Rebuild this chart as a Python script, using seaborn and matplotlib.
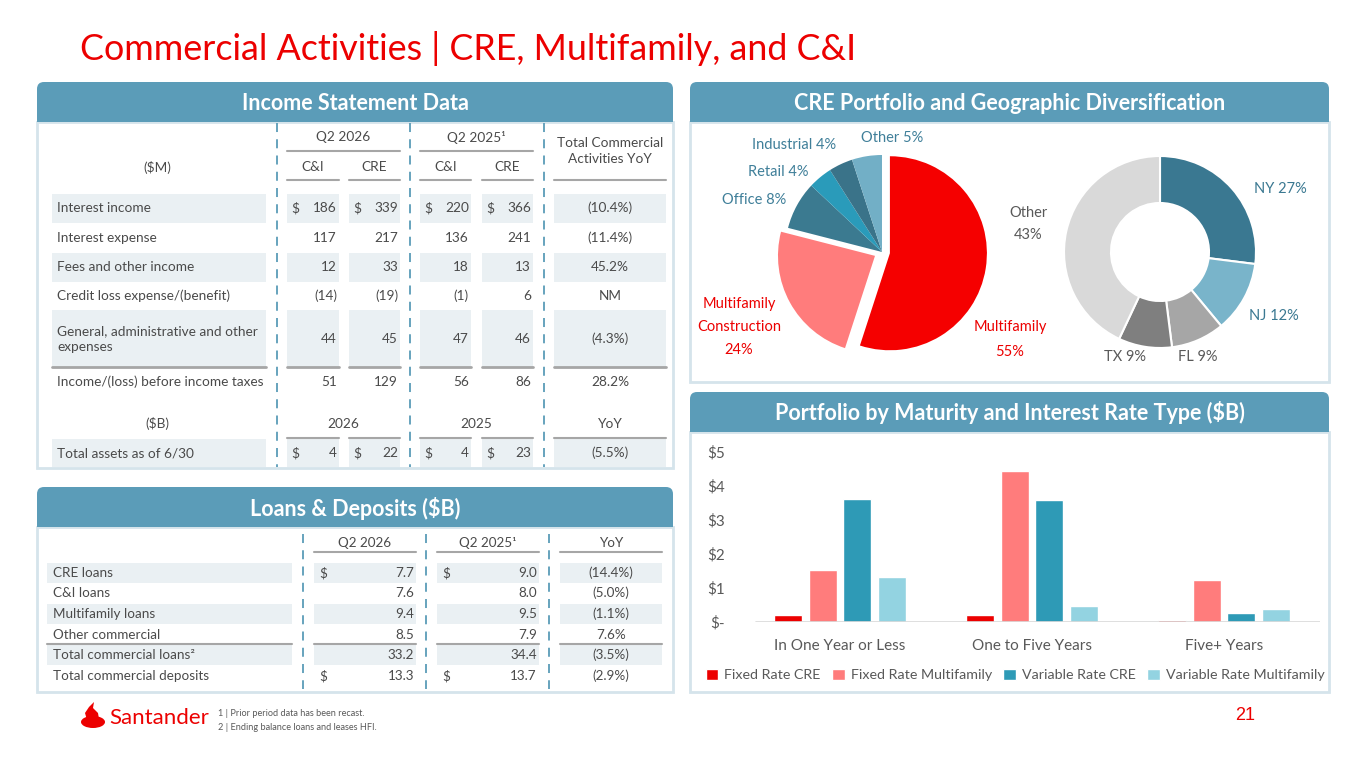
import matplotlib
matplotlib.use("Agg")
import matplotlib.pyplot as plt
from matplotlib.patches import Rectangle, FancyBboxPatch, Polygon, Ellipse
import seaborn as sns
import pandas as pd

W, H = 1365, 768

RED = "#EC0000"
HDR = "#5B9CB8"
BORDER = "#D5E4EB"
SHADE = "#EAF0F3"
TXT = "#4A4A4A"
RULE = "#A6A6A6"
DASH = "#5B9CB8"

# ---- data ----
title = "Commercial Activities | CRE, Multifamily, and C&I"

is_rows = ["Interest income", "Interest expense", "Fees and other income",
           "Credit loss expense/(benefit)", "General, administrative and other\nexpenses",
           "Income/(loss) before income taxes"]
is_ci_26 = ["186", "117", "12", "(14)", "44", "51"]
is_cre_26 = ["339", "217", "33", "(19)", "45", "129"]
is_ci_25 = ["220", "136", "18", "(1)", "47", "56"]
is_cre_25 = ["366", "241", "13", "6", "46", "86"]
is_yoy = ["(10.4%)", "(11.4%)", "45.2%", "NM", "(4.3%)", "28.2%"]
assets_label = "Total assets as of 6/30"
assets_vals = ["4", "22", "4", "23"]
assets_yoy = "(5.5%)"

ld_rows = ["CRE loans", "C&I loans", "Multifamily loans", "Other commercial",
           "Total commercial loans\u00b2", "Total commercial deposits"]
ld_q2_26 = [7.7, 7.6, 9.4, 8.5, 33.2, 13.3]
ld_q2_25 = [9.0, 8.0, 9.5, 7.9, 34.4, 13.7]
ld_yoy = ["(14.4%)", "(5.0%)", "(1.1%)", "7.6%", "(3.5%)", "(2.9%)"]

cre_types = ["Multifamily", "Multifamily\nConstruction", "Office", "Retail", "Industrial", "Other"]
cre_share = [55, 24, 8, 4, 4, 5]
geo_states = ["NY", "NJ", "FL", "TX", "Other"]
geo_share = [27, 12, 9, 9, 43]

maturity = ["In One Year or Less", "One to Five Years", "Five+ Years"]
fixed_cre = [0.20, 0.22, 0.07]
fixed_mf = [1.54, 4.45, 1.23]
var_cre = [3.61, 3.59, 0.26]
var_mf = [1.31, 0.47, 0.39]
series_names = ["Fixed Rate CRE", "Fixed Rate Multifamily", "Variable Rate CRE", "Variable Rate Multifamily"]

sns.set_theme(style="white")
plt.rcParams["font.family"] = ["Lato", "DejaVu Sans"]

fig = plt.figure(figsize=(W / 100, H / 100), dpi=100)
bg = fig.add_axes([0, 0, 1, 1])
bg.set_xlim(0, W)
bg.set_ylim(H, 0)
bg.axis("off")


def px_axes(x0, y0, w, h):
    return fig.add_axes([x0 / W, 1 - (y0 + h) / H, w / W, h / H])


def panel(x0, y0, x1, y1, name):
    bg.add_patch(Rectangle((x0, y0 + 40), x1 - x0, y1 - y0 - 40, fill=False, ec=BORDER, lw=2))
    bg.add_patch(FancyBboxPatch((x0, y0), x1 - x0, 40, boxstyle="round,pad=0,rounding_size=7",
                                fc=HDR, ec="none"))
    bg.add_patch(Rectangle((x0, y0 + 20), x1 - x0, 20, fc=HDR, ec="none"))
    bg.text((x0 + x1) / 2, y0 + 21, name, color="white", fontsize=15.5, fontweight="bold",
            ha="center", va="center")


def shade(x0, x1, y0, y1):
    bg.add_patch(Rectangle((x0, y0), x1 - x0, y1 - y0, fc=SHADE, ec="none"))


def rule(x0, x1, y, lw=1.5):
    bg.plot([x0, x1], [y, y], color=RULE, lw=lw)


def dashed(x, y0, y1):
    bg.plot([x, x], [y0, y1], color=DASH, lw=1.3, ls=(0, (5, 4)))


# title
bg.text(80, 48, title, color=RED, fontsize=25.8, ha="left", va="center")

panel(37, 82, 673, 468, "Income Statement Data")
panel(37, 487, 673, 692, "Loans & Deposits ($B)")
panel(690, 82, 1329, 382, "CRE Portfolio and Geographic Diversification")
panel(690, 392, 1329, 692, "Portfolio by Maturity and Interest Rate Type ($B)")

# ---- income statement table ----
fs = 9.8
cells = [(52, 266), (287, 339), (349, 400), (420, 471), (482, 533), (554, 666)]
row_y = [208, 238, 267, 296, 339, 382]
row_h = [29, 28, 29, 28, 58, 28]
for i, lab in enumerate(is_rows):
    if i in (0, 2, 4):
        for cx0, cx1 in cells:
            shade(cx0, cx1, row_y[i] - row_h[i] / 2, row_y[i] + row_h[i] / 2)
for cx0, cx1 in cells:
    rule(cx0, cx1, 367, lw=2)
# headers
bg.text(343, 137, "Q2 2026", color=TXT, fontsize=fs, ha="center", va="center")
bg.text(476, 137, "Q2 2025\u00b9", color=TXT, fontsize=fs, ha="center", va="center")
rule(287, 400, 151)
rule(420, 533, 151)
bg.text(610, 151, "Total Commercial\nActivities YoY", color=TXT, fontsize=fs, ha="center",
        va="center", linespacing=1.35)
bg.text(157, 167, "($M)", color=TXT, fontsize=fs, ha="center", va="center")
for (cx0, cx1), h in zip(cells[1:5], ["C&I", "CRE", "C&I", "CRE"]):
    bg.text((cx0 + cx1) / 2, 167, h, color=TXT, fontsize=fs, ha="center", va="center")
for cx0, cx1 in cells[1:]:
    rule(cx0, cx1, 180)
cols = [is_ci_26, is_cre_26, is_ci_25, is_cre_25]
for i, lab in enumerate(is_rows):
    bg.text(57, row_y[i], lab, color=TXT, fontsize=fs, ha="left", va="center", linespacing=1.45)
    for (cx0, cx1), col in zip(cells[1:5], cols):
        bg.text(cx1 - 2, row_y[i], col[i], color=TXT, fontsize=fs, ha="right", va="center")
        if i == 0:
            bg.text(cx0 + 4, row_y[i], "$", color=TXT, fontsize=fs, ha="left", va="center")
    bg.text(610, row_y[i], is_yoy[i], color=TXT, fontsize=fs, ha="center", va="center")
# assets block
bg.text(157, 424, "($B)", color=TXT, fontsize=fs, ha="center", va="center")
bg.text(343, 424, "2026", color=TXT, fontsize=fs, ha="center", va="center")
bg.text(476, 424, "2025", color=TXT, fontsize=fs, ha="center", va="center")
bg.text(610, 424, "YoY", color=TXT, fontsize=fs, ha="center", va="center")
for cx0, cx1 in cells:
    shade(cx0, cx1, 439, 467)
for cx0, cx1 in cells[1:]:
    rule(cx0, cx1, 438)
bg.text(57, 453, assets_label, color=TXT, fontsize=fs, ha="left", va="center")
for (cx0, cx1), v in zip(cells[1:5], assets_vals):
    bg.text(cx1 - 2, 453, v, color=TXT, fontsize=fs, ha="right", va="center")
    bg.text(cx0 + 4, 453, "$", color=TXT, fontsize=fs, ha="left", va="center")
bg.text(610, 453, assets_yoy, color=TXT, fontsize=fs, ha="center", va="center")
for x in (277, 410, 544):
    dashed(x, 123, 467)

# ---- loans & deposits table ----
fs2 = 9.7
lcells = [(47, 292), (314, 416), (437, 539), (560, 662)]
lrow_y = [573, 593, 614, 635, 655, 676]
for i in (0, 2, 4):
    for cx0, cx1 in lcells:
        shade(cx0, cx1, lrow_y[i] - 10, lrow_y[i] + 10)
for cx0, cx1 in lcells:
    rule(cx0, cx1, 644)
for (cx0, cx1), h in zip(lcells[1:], ["Q2 2026", "Q2 2025\u00b9", "YoY"]):
    bg.text((cx0 + cx1) / 2, 543, h, color=TXT, fontsize=fs2, ha="center", va="center")
    rule(cx0, cx1, 552)
for i, lab in enumerate(ld_rows):
    bg.text(53, lrow_y[i], lab, color=TXT, fontsize=fs2, ha="left", va="center")
    for (cx0, cx1), col in zip(lcells[1:3], [ld_q2_26, ld_q2_25]):
        bg.text(cx1 - 2, lrow_y[i], f"{col[i]:.1f}", color=TXT, fontsize=fs2, ha="right", va="center")
        if i in (0, 5):
            bg.text(cx0 + 5, lrow_y[i], "$", color=TXT, fontsize=fs2, ha="left", va="center")
    bg.text(611, lrow_y[i], ld_yoy[i], color=TXT, fontsize=fs2, ha="center", va="center")
for x in (303, 426, 549):
    dashed(x, 534, 689)

# ---- CRE pie ----
pie_colors = ["#F50000", "#FF7C7C", "#3B7A90", "#2A9BBA", "#3A7389", "#72AFC6"]
ax_pie = px_axes(882 - 130, 252 - 130, 260, 260)
ax_pie.pie(cre_share, colors=pie_colors, startangle=90, counterclock=False, radius=0.97,
           explode=[0.08, 0.08, 0, 0, 0, 0], wedgeprops=dict(ec="none"))
ax_pie.set_xlim(-1.3, 1.3)
ax_pie.set_ylim(-1.3, 1.3)
ax_pie.set_aspect("equal")
ax_pie.axis("off")

cre_lab_pos = [(1010, 339, "center"), (739, 327, "center"), (786, 200, "right"),
               (808, 172, "right"), (836, 145, "right"), (892, 138, "center")]
cre_lab_col = [RED, RED, "#3F7F99", "#3F7F99", "#3F7F99", "#3F7F99"]
for i, name in enumerate(cre_types):
    sep = "\n" if i < 2 else " "
    x, y, ha = cre_lab_pos[i]
    bg.text(x, y, f"{name}{sep}{cre_share[i]}%", color=cre_lab_col[i], fontsize=10.5,
            ha=ha, va="center", linespacing=1.8 if i == 1 else 2.0)

# ---- geo donut ----
geo_colors = ["#3A7891", "#79B4CA", "#A6A6A6", "#7F7F7F", "#D9D9D9"]
ax_don = px_axes(1160 - 130, 252 - 130, 260, 260)
ax_don.pie(geo_share, colors=geo_colors, startangle=90, counterclock=False, radius=0.96,
           wedgeprops=dict(width=0.47, ec="white", lw=1.5))
ax_don.set_xlim(-1.3, 1.3)
ax_don.set_ylim(-1.3, 1.3)
ax_don.set_aspect("equal")
ax_don.axis("off")

geo_lab_pos = [(1280, 189), (1274, 316), (1198, 357), (1125, 357), (1028, 224)]
geo_lab_col = ["#3A7891", "#3A7891", "#595959", "#595959", "#595959"]
for i, st in enumerate(geo_states):
    sep = "\n" if st == "Other" else " "
    x, y = geo_lab_pos[i]
    bg.text(x, y, f"{st}{sep}{geo_share[i]}%", color=geo_lab_col[i], fontsize=10.5,
            ha="center", va="center", linespacing=1.7)

# ---- maturity bars ----
df = pd.DataFrame({
    "maturity": maturity * 4,
    "series": [s for s in series_names for _ in maturity],
    "value": fixed_cre + fixed_mf + var_cre + var_mf,
})
bar_colors = ["#EC0000", "#FF7C7C", "#2E9AB6", "#93D3E1"]
ax_bar = px_axes(744, 452, 576, 170)
ax_bar.set_facecolor("none")
sns.barplot(data=df, x="maturity", y="value", hue="series", palette=bar_colors,
            width=0.72, gap=0.18, ax=ax_bar, saturation=1)
ax_bar.set_ylim(0, 5)
ax_bar.set_xlim(-0.5, 2.5)
ax_bar.set_yticks(range(6))
ax_bar.set_yticklabels(["$-"] + [f"${i}" for i in range(1, 6)], color="#595959", fontsize=11)
ax_bar.tick_params(axis="x", colors="#595959", labelsize=11, length=0, pad=12)
ax_bar.tick_params(axis="y", length=0, pad=14)
ax_bar.set_xlabel("")
ax_bar.set_ylabel("")
sns.despine(ax=ax_bar, left=True, bottom=True)
ax_bar.axhline(0, color="#D9D9D9", lw=1.2, xmin=0.02)
ax_bar.legend(loc="center", bbox_to_anchor=(1015 / W, 1 - 675 / H), bbox_transform=fig.transFigure,
              ncol=4, frameon=False, handlelength=0.9, handleheight=0.9, columnspacing=0.8,
              handletextpad=0.4, fontsize=10.3, labelcolor="#595959")

# ---- footer ----
bg.add_patch(Ellipse((93, 722), 24, 12, fc=RED, ec="none"))
bg.add_patch(Polygon([(87, 720), (85, 713), (89, 707), (94, 702), (93, 708), (98, 713), (99, 719)],
                     fc=RED, ec="none"))
bg.text(109, 718, "Santander", color=RED, fontsize=16, ha="left", va="center")
bg.text(218, 714, "1 | Prior period data has been recast.", color="#595959", fontsize=6.6, va="center")
bg.text(218, 728, "2 | Ending balance loans and leases HFI.", color="#595959", fontsize=6.6, va="center")
bg.text(1245, 716, "21", color=RED, fontsize=13, ha="center", va="center",
        family=["Liberation Sans", "DejaVu Sans"])

fig.savefig("out.png", dpi=100)
